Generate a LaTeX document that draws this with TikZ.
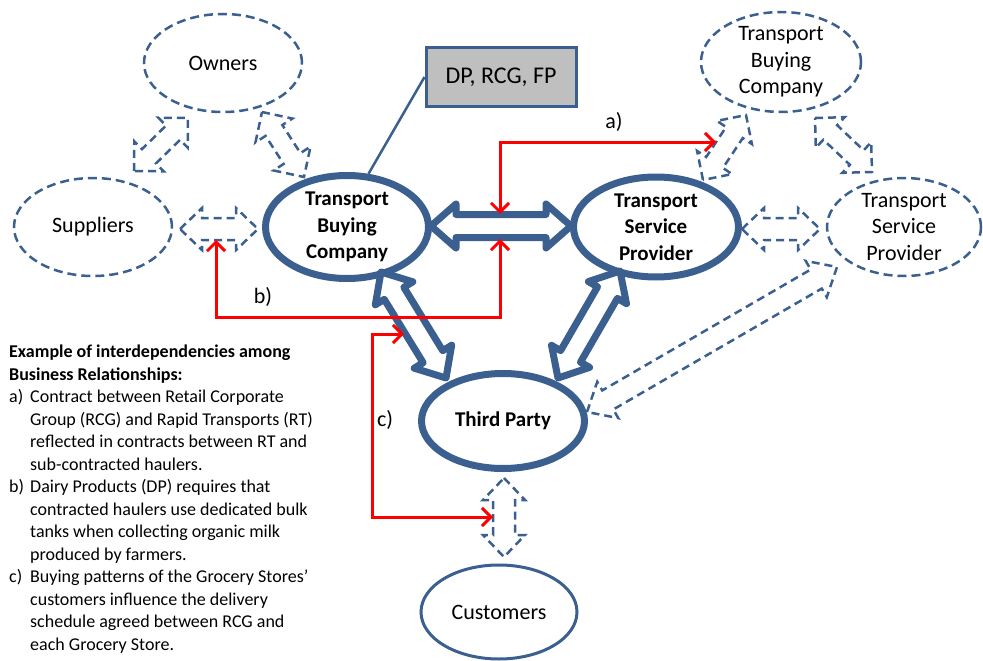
\documentclass[tikz,border=0pt]{standalone}
\usepackage{fontspec}
\setmainfont{Carlito}
\usetikzlibrary{shapes.geometric,calc,arrows.meta}

\definecolor{edgeblue}{RGB}{59,96,143}
\definecolor{boxgray}{RGB}{191,191,191}
\definecolor{linkred}{RGB}{255,0,0}

% Hollow double-headed block arrow between two tip points.
% #1 style, #2/#3 tips, #4 head length, #5 head half-width, #6 shaft half-width
\newcommand\hollowarrow[6]{%
  \coordinate (ha) at ($(#2)!#4!(#3)$);
  \coordinate (hb) at ($(#3)!#4!(#2)$);
  \draw[#1] (#2)
    -- ($(ha)!#5!90:(#3)$) -- ($(ha)!#6!90:(#3)$)
    -- ($(hb)!#6!-90:(#2)$) -- ($(hb)!#5!-90:(#2)$)
    -- (#3)
    -- ($(hb)!#5!90:(#2)$) -- ($(hb)!#6!90:(#2)$)
    -- ($(ha)!#6!-90:(#3)$) -- ($(ha)!#5!-90:(#3)$)
    -- cycle;
}

\begin{document}
\begin{tikzpicture}[x=1pt,y=-1pt,
  dashell/.style={ellipse, draw=edgeblue, line width=2.5pt,
    dash pattern=on 9pt off 5pt, inner sep=0pt, align=center,
    font=\fontsize{22}{26.5}\selectfont},
  thickell/.style={ellipse, draw=edgeblue, line width=7pt, inner sep=0pt,
    align=center, font=\bfseries\fontsize{21}{26.5}\selectfont},
  thinell/.style={ellipse, draw=edgeblue, line width=3pt, inner sep=0pt,
    align=center, font=\fontsize{22}{26.5}\selectfont},
  dasharrow/.style={draw=edgeblue, line width=2.5pt, dash pattern=on 8pt off 5pt,
    line join=miter},
  thickarrow/.style={draw=edgeblue, line width=7pt, line join=round},
  redlink/.style={draw=linkred, line width=3pt,
    >={Straight Barb[length=9pt,width=18pt]}, <->},
  tag/.style={font=\fontsize{22}{26}\selectfont, inner sep=0pt}
]
\useasboundingbox (0,0) rectangle (983,661);

% Parties
\node[dashell, minimum width=158pt, minimum height=98pt] (own) at (223,63) {Owners};
\node[dashell, minimum width=158pt, minimum height=98pt] (sup) at (93,227) {Suppliers};
\node[thickell, minimum width=163pt, minimum height=103pt] (tbc) at (347,227) {Transport\\Buying\\Company};
\node[thickell, minimum width=165pt, minimum height=100pt] (tsp) at (656,227) {Transport\\Service\\Provider};
\node[thickell, minimum width=163pt, minimum height=95pt] (tp) at (503,421) {Third Party};
\node[thinell, minimum width=156pt, minimum height=94pt] (cus) at (499,612) {Customers};
\node[dashell, minimum width=160pt, minimum height=95pt] (rtbc) at (781,62) {Transport\\Buying\\Company};
\node[dashell, minimum width=154pt, minimum height=98pt] (rtsp) at (904,227) {Transport\\Service\\Provider};

% Callout box
\node[draw=edgeblue, fill=boxgray, line width=3pt, minimum width=150pt,
  minimum height=58pt, inner sep=0pt, font=\fontsize{24}{28}\selectfont] (dp) at (501,77) {DP, RCG, FP};
\draw[edgeblue, line width=2.5pt] (dp.west) -- (tbc.68);

% Tip points of the block arrows
\coordinate (os1) at (134,171);  \coordinate (os2) at (188,118);
\coordinate (ot1) at (262,112);  \coordinate (ot2) at (304,177);
\coordinate (st1) at (180,229);  \coordinate (st2) at (258,229);
\coordinate (tt1) at (431,226);  \coordinate (tt2) at (571,226);
\coordinate (bp1) at (381,272);  \coordinate (bp2) at (446,378);
\coordinate (sp1) at (620,271);  \coordinate (sp2) at (558,378);
\coordinate (sr1) at (742,229);  \coordinate (sr2) at (820,229);
\coordinate (rr1) at (815,118);  \coordinate (rr2) at (872,172);
\coordinate (sb1) at (703,180);  \coordinate (sb2) at (746,115);
\coordinate (pr1) at (587,412);  \coordinate (pr2) at (837,267);
\coordinate (pc1) at (504,478);  \coordinate (pc2) at (504,557);

% Dashed (indirect) relationships
\hollowarrow{dasharrow}{os1}{os2}{21pt}{21pt}{10pt}
\hollowarrow{dasharrow}{ot1}{ot2}{22pt}{22pt}{10pt}
\hollowarrow{dasharrow}{st1}{st2}{22pt}{21pt}{11pt}
\hollowarrow{dasharrow}{sr1}{sr2}{22pt}{21pt}{11pt}
\hollowarrow{dasharrow}{rr1}{rr2}{21pt}{21pt}{10pt}
\hollowarrow{dasharrow}{sb1}{sb2}{21pt}{21pt}{10pt}
\hollowarrow{dasharrow}{pr1}{pr2}{24pt}{21pt}{11pt}
\hollowarrow{dasharrow}{pc1}{pc2}{22pt}{21pt}{11pt}

% Direct relationships
\hollowarrow{thickarrow}{tt1}{tt2}{25pt}{22pt}{11.5pt}
\hollowarrow{thickarrow}{bp1}{bp2}{25pt}{22pt}{11.5pt}
\hollowarrow{thickarrow}{sp1}{sp2}{25pt}{22pt}{11.5pt}

% Interdependency links
\coordinate (a0) at (500,142); \coordinate (a1) at (716,142); \coordinate (a2) at (500,214);
\coordinate (b0) at (500,317); \coordinate (b1) at (500,239);
\coordinate (b2) at (216,317); \coordinate (b3) at (216,240);
\coordinate (c0) at (372,334); \coordinate (c1) at (404,334);
\coordinate (c2) at (372,517); \coordinate (c3) at (493,517);
\draw[redlink] (a1) -- (a0) -- (a2);
\draw[redlink] (b1) -- (b0) -- (b2) -- (b3);
\draw[redlink] (c1) -- (c0) -- (c2) -- (c3);
\node[tag] (la) at (614,122) {a)};
\node[tag] (lb) at (263,297) {b)};
\node[tag] (lc) at (385,420) {c)};

% Legend
\node[anchor=north west, align=left, inner sep=0pt,
  font=\fontsize{18}{22.5}\selectfont] (legend) at (9,345) {%
\textbf{Example of interdependencies among}\\
\textbf{Business Relationships:}\\
\makebox[21pt][l]{a)}Contract between Retail Corporate\\
\hspace*{21pt}Group (RCG) and Rapid Transports (RT)\\
\hspace*{21pt}reflected in contracts between RT and\\
\hspace*{21pt}sub-contracted haulers.\\
\makebox[21pt][l]{b)}Dairy Products (DP) requires that\\
\hspace*{21pt}contracted haulers use dedicated bulk\\
\hspace*{21pt}tanks when collecting organic milk\\
\hspace*{21pt}produced by farmers.\\
\makebox[21pt][l]{c)}Buying patterns of the Grocery Stores’\\
\hspace*{21pt}customers influence the delivery\\
\hspace*{21pt}schedule agreed between RCG and\\
\hspace*{21pt}each Grocery Store.};
\end{tikzpicture}
\end{document}
